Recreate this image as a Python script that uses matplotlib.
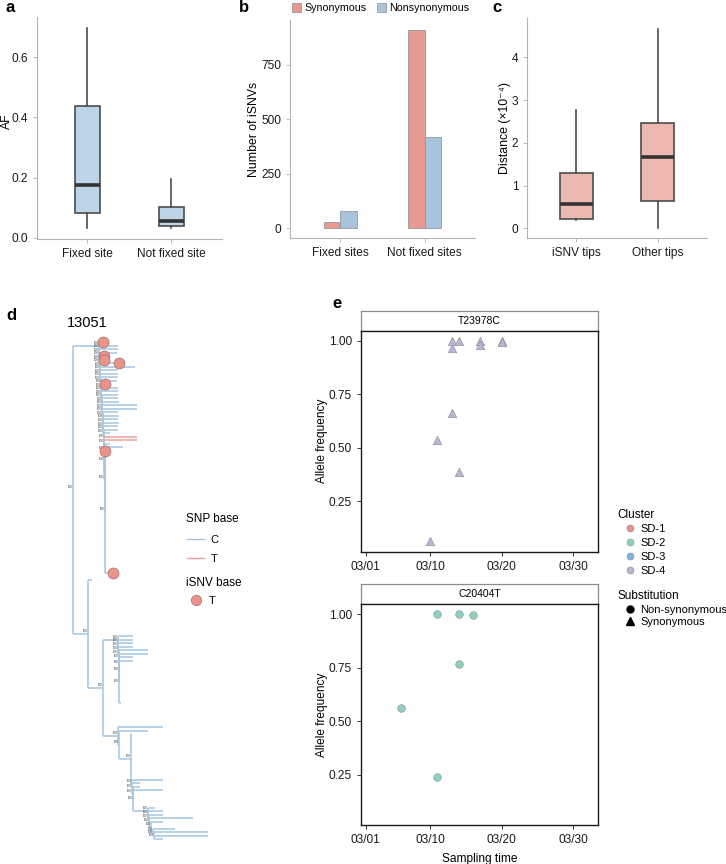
import numpy as np
import matplotlib
matplotlib.use("Agg")
import matplotlib.pyplot as plt
import matplotlib.dates as mdates
from matplotlib.collections import LineCollection
from matplotlib.lines import Line2D
from matplotlib.patches import Patch

plt.rcParams['font.family'] = ['Liberation Sans', 'DejaVu Sans']

# ── panel a: allele frequency box stats ───────────────
a_groups = ["Fixed site", "Not fixed site"]
a_whislo = [0.031, 0.031]
a_q1     = [0.083, 0.039]
a_med    = [0.175, 0.057]
a_q3     = [0.438, 0.101]
a_whishi = [0.696, 0.194]

# ── panel b: iSNV counts ──────────────────────────────
b_groups = ["Fixed sites", "Not fixed sites"]
b_syn    = [27, 908]
b_nonsyn = [78, 420]

# ── panel c: distance box stats (x1e-4) ───────────────
c_groups = ["iSNV tips", "Other tips"]
c_whislo = [0.19, 0.01]
c_q1     = [0.21, 0.64]
c_med    = [0.56, 1.67]
c_q3     = [1.29, 2.46]
c_whishi = [2.77, 4.66]

# ── panel e: allele frequency over time ───────────────
e1_site  = "T23978C"
e1_dates = ["2020-03-10", "2020-03-11", "2020-03-13", "2020-03-13", "2020-03-13",
            "2020-03-14", "2020-03-14", "2020-03-17", "2020-03-17", "2020-03-20", "2020-03-20"]
e1_af    = [0.061, 0.536, 0.66, 0.966, 1.0, 1.0, 0.388, 1.0, 0.98, 1.0, 0.995]
e2_site  = "C20404T"
e2_dates = ["2020-03-06", "2020-03-11", "2020-03-11", "2020-03-14", "2020-03-14", "2020-03-16"]
e2_af    = [0.56, 0.24, 1.0, 1.0, 0.767, 0.995]
clusters = ["SD-1", "SD-2", "SD-3", "SD-4"]
cluster_cols = ["#e8918a", "#8fd0c4", "#7fb2d9", "#b9b5d9"]

# ── panel d: tree 13051 (root-to-node depths) ─────────
# flag: '' plain tip, 'c' iSNV tip, 'r' T-base branch, '|n' = n empty rows before tip
A_depth = [30, 45, 45, 44, 31, 31, 46, 62, 45, 45, 45, 44, 32, 45, 45, 45, 45,
           46, 64, 64, 45, 46, 45, 46, 45, 45, 37, 64, 64, 37, 50, 32, 40]
A_flag  = ['c', '', '', '', 'c', 'c', 'c', '', '', '', '', '', 'c', '', '', '', '',
           '', '', '', '', '', '', '', '', '', '', 'r', 'r', '', '', 'c', 'c|34']
A_spine = [26, 26, 26, 26.2, 26.4, 26.6, 26.8, 27, 27.2, 27.4, 27.6, 27.8, 28, 28.2,
           28.4, 28.6, 28.8, 29, 29.2, 29.4, 29.6, 29.8, 30, 30.2, 30.4, 30.6, 30.8,
           31, 31.2, 31.4, 31.6, 32]
N1_depth, N2_depth = 15, 30
lone_depth, lone_flag = 19, '|1'
B_depth = [60, 60, 60, 60, 75, 75, 60, 60, 47, 48]
B_flag  = ['|15', '', '', '', '', '', '', '', '', '|10']
B_spine = [45, 45, 45.2, 45.4, 45.6, 45.8, 46, 46.2, 46.4]
C0_depth, C0_flag, C0_spine = [90, 75, 57], ['|6', '', ''], [45, 46, 58]
C1_depth, C1_flag, C1_spine = [90, 67, 67, 90], ['|12', '', '', ''], [59, 59, 59.5, 60]
C2_depth, C2_flag, C2_spine = [82, 90, 90, 120, 90], ['|4', '', '', '', ''], [75, 75, 75.5, 76, 78]
C3_depth, C3_flag, C3_spine = [102, 135, 135, 90], ['|1', '', '', ''], [80, 80.5, 81]

BLUE = "#a3c6e3"
RED = "#f0a098"
SYN = "#e69a90"
NONSYN = "#a7c4dc"

W, H = 726, 864
fig = plt.figure(figsize=(W / 100, H / 100), dpi=100)


def px_axes(l, t, r, b):
    return fig.add_axes([l / W, 1 - b / H, (r - l) / W, (b - t) / H])


def style_axes(ax):
    for s in ['top', 'right']:
        ax.spines[s].set_visible(False)
    for s in ['left', 'bottom']:
        ax.spines[s].set_color('#b3b3b3')
        ax.spines[s].set_linewidth(0.8)
    ax.tick_params(colors='#b3b3b3', labelcolor='#1a1a1a', labelsize=8.6, length=3, width=0.6)


def box_stats(lo, q1, med, q3, hi):
    return [dict(whislo=a, q1=b, med=c, q3=d, whishi=e) for a, b, c, d, e in zip(lo, q1, med, q3, hi)]


def draw_box(ax, stats, width, face):
    ax.bxp(stats, positions=[1, 2], widths=width, patch_artist=True, showfliers=False,
           showcaps=False,
           boxprops=dict(facecolor=face, edgecolor='#4d4d4d', linewidth=1.2),
           medianprops=dict(color='#333333', linewidth=2.6),
           whiskerprops=dict(color='#4d4d4d', linewidth=1.2))


# ── a ──
ax = px_axes(36.7, 17.1, 222, 238.8)
draw_box(ax, box_stats(a_whislo, a_q1, a_med, a_q3, a_whishi), 0.3, "#bdd4e7")
style_axes(ax)
ax.set_xlim(0.4, 2.6)
ax.set_ylim(-0.0035, 0.7335)
ax.set_yticks([0, 0.2, 0.4, 0.6])
ax.set_xticks([1, 2], a_groups)
ax.set_ylabel("AF", fontsize=8.8)
ax.yaxis.set_label_coords(-0.13, 0.53)

# ── b ──
ax = px_axes(290, 20, 475, 238.3)
xb = np.arange(1, len(b_groups) + 1)
ax.bar(xb - 0.1, b_syn, width=0.2, color=SYN, edgecolor='#8c8c8c', linewidth=0.5)
ax.bar(xb + 0.1, b_nonsyn, width=0.2, color=NONSYN, edgecolor='#8c8c8c', linewidth=0.5)
style_axes(ax)
ax.set_xlim(0.4, 2.6)
ax.set_ylim(-45.5, 955.5)
ax.set_yticks([0, 250, 500, 750])
ax.set_xticks(xb, b_groups)
ax.set_ylabel("Number of iSNVs", fontsize=8.8)
ax.yaxis.set_label_coords(-0.16, 0.5)
fig.legend(handles=[Patch(fc=SYN, ec='#8c8c8c', lw=0.5), Patch(fc=NONSYN, ec='#8c8c8c', lw=0.5)],
           labels=["Synonymous", "Nonsynonymous"], ncol=2, loc='center left',
           bbox_to_anchor=(292 / W, 1 - 8 / H), frameon=False, fontsize=7.7,
           handlelength=0.85, handleheight=0.85, handletextpad=0.35, columnspacing=0.9,
           borderpad=0, borderaxespad=0)

# ── c ──
ax = px_axes(527.3, 18.3, 706.7, 238.3)
draw_box(ax, box_stats(c_whislo, c_q1, c_med, c_q3, c_whishi), 0.4, "#ecb8b0")
style_axes(ax)
ax.set_xlim(0.4, 2.6)
ax.set_ylim(-0.234, 4.914)
ax.set_yticks([0, 1, 2, 3, 4])
ax.set_xticks([1, 2], c_groups)
ax.set_ylabel("Distance (×10⁻⁴)", fontsize=8.8)
ax.yaxis.set_label_coords(-0.09, 0.5)


# ── d: tree ──
def tips(depths, flags):
    out = []
    for d, f in zip(depths, flags):
        kind, _, gap = f.partition('|')
        out.append({'x': d, 'kind': kind, 'gap': int(gap or 0)})
    return out


def ladder(entries, spine):
    node = {'x': spine[-1], 'kids': entries[-2:]}
    for e, s in zip(entries[-3::-1], spine[-2::-1]):
        node = {'x': s, 'kids': [e, node]}
    return node


def place(node, cursor):
    if 'kids' in node:
        for k in node['kids']:
            place(k, cursor)
        node['y'] = np.mean([k['y'] for k in node['kids']])
    else:
        cursor[0] += 1 + node['gap']
        node['y'] = cursor[0]


def collect(node, blue, red, circles, inner):
    ys = [node['y']]
    inner.append(node)
    for k in node['kids']:
        seg = [(node['x'], k['y']), (k['x'], k['y'])]
        (red if k.get('kind') == 'r' else blue).append(seg)
        ys.append(k['y'])
        if 'kids' in k:
            collect(k, blue, red, circles, inner)
        elif k['kind'] == 'c':
            circles.append((k['x'], k['y']))
    blue.append([(node['x'], min(ys)), (node['x'], max(ys))])


C3 = ladder(tips(C3_depth, C3_flag), C3_spine)
C2 = ladder(tips(C2_depth, C2_flag) + [C3], C2_spine)
C1 = ladder(tips(C1_depth, C1_flag) + [C2], C1_spine)
C0 = ladder(tips(C0_depth, C0_flag) + [C1], C0_spine)
B = ladder(tips(B_depth, B_flag), B_spine)
A = ladder(tips(A_depth, A_flag), A_spine)
N2 = {'x': N2_depth, 'kids': [B, C0]}
N1 = {'x': N1_depth, 'kids': tips([lone_depth], [lone_flag]) + [N2]}
root = {'x': 0, 'kids': [A, N1]}
place(root, [-1])

blue_segs, red_segs, circ, inner = [], [], [], []
collect(root, blue_segs, red_segs, circ, inner)

ROW = 3.5  # px per tip row
axd = px_axes(0, 290, 320, 864)
axd.set_xlim(-73, 247)
axd.set_ylim((864 - 342) / ROW, (290 - 342) / ROW)
axd.axis('off')
axd.add_collection(LineCollection(blue_segs, colors=BLUE, linewidths=1.1))
axd.add_collection(LineCollection(red_segs, colors=RED, linewidths=1.1))
for n in inner:
    axd.text(n['x'] - 0.6, n['y'] - 0.2, "100", fontsize=2.2, color='#444444',
             ha='right', va='bottom')
cx, cy = zip(*circ)
axd.scatter(cx, cy, s=62, color="#e8948a", edgecolor="#a06e68", linewidth=0.5, zorder=5)
fig.text(87.5 / W, 1 - 323 / H, "13051", fontsize=10.5, ha='center', va='center')

fig.text(186 / W, 1 - 519 / H, "SNP base", fontsize=8.5, va='center')
fig.legend(handles=[Line2D([], [], color=BLUE, lw=1), Line2D([], [], color=RED, lw=1)],
           labels=["C", "T"], loc='upper left', bbox_to_anchor=(187 / W, 1 - 535 / H),
           frameon=False, fontsize=8, handlelength=1.5, handletextpad=0.6,
           labelspacing=0.8, borderpad=0, borderaxespad=0)
fig.text(186 / W, 1 - 583 / H, "iSNV base", fontsize=8.5, va='center')
fig.legend(handles=[Line2D([], [], ls='', marker='o', markersize=7.5, mfc="#e8948a",
                           mec="#a06e68", mew=0.5)],
           labels=["T"], loc='upper left', bbox_to_anchor=(188 / W, 1 - 596 / H),
           frameon=False, fontsize=8, handlelength=1.5, handletextpad=0.4,
           borderpad=0, borderaxespad=0)


# ── e ──
def facet(top, site, dates, af, marker, col):
    strip = px_axes(360.7, top, 598.3, top + 20)
    strip.set_xticks([])
    strip.set_yticks([])
    for s in strip.spines.values():
        s.set_color('#8c8c8c')
        s.set_linewidth(0.9)
    strip.text(0.5, 0.5, site, fontsize=7.5, ha='center', va='center', transform=strip.transAxes)
    ax = px_axes(360.7, top + 20, 598.3, top + 241)
    x = mdates.date2num(np.array(dates, dtype='datetime64[D]'))
    ax.scatter(x, af, marker=marker, s=38 if marker == '^' else 30, color=col,
               edgecolor='#8a8a8a', linewidth=0.4, zorder=3)
    d0 = mdates.date2num(np.datetime64('2020-03-01'))
    ax.set_xlim(d0 - 0.7, d0 + 32.5)
    ax.set_ylim(0.013, 1.047)
    ax.set_xticks(mdates.date2num(np.array(['2020-03-01', '2020-03-10', '2020-03-20', '2020-03-30'],
                                           dtype='datetime64[D]')))
    ax.xaxis.set_major_formatter(mdates.DateFormatter('%m/%d'))
    ax.set_yticks([0.25, 0.5, 0.75, 1.0], ["0.25", "0.50", "0.75", "1.00"])
    for s in ax.spines.values():
        s.set_color('#1a1a1a')
        s.set_linewidth(1.0)
    ax.tick_params(labelsize=8.6, length=3, width=0.7, color='#333333', labelcolor='#1a1a1a')
    ax.set_ylabel("Allele frequency", fontsize=8.6)
    ax.yaxis.set_label_coords(-0.138, 0.5)
    return ax


facet(310.7, e1_site, e1_dates, e1_af, '^', cluster_cols[3])
axe = facet(584.3, e2_site, e2_dates, e2_af, 'o', cluster_cols[1])
axe.set_xlabel("Sampling time", fontsize=8.6, labelpad=5)

fig.text(617.7 / W, 1 - 515 / H, "Cluster", fontsize=8.5, va='center')
fig.legend(handles=[Line2D([], [], ls='', marker='o', markersize=5, mfc=c, mec='#8a8a8a', mew=0.4)
                    for c in cluster_cols],
           labels=clusters, loc='upper left', bbox_to_anchor=(624 / W, 1 - 524 / H),
           frameon=False, fontsize=8, handlelength=1.0, handletextpad=0.45,
           labelspacing=0.35, borderpad=0, borderaxespad=0)
fig.text(617.7 / W, 1 - 596 / H, "Substitution", fontsize=8.5, va='center')
fig.legend(handles=[Line2D([], [], ls='', marker='o', markersize=5, color='black'),
                    Line2D([], [], ls='', marker='^', markersize=5.5, color='black')],
           labels=["Non-synonymous", "Synonymous"], loc='upper left',
           bbox_to_anchor=(624 / W, 1 - 605 / H), frameon=False, fontsize=8,
           handlelength=1.0, handletextpad=0.45, labelspacing=0.2,
           borderpad=0, borderaxespad=0)

# ── panel letters ──
for lab, x, y in [("a", 10, 8), ("b", 244, 8), ("c", 497, 8), ("d", 11, 316), ("e", 337, 303)]:
    fig.text(x / W, 1 - y / H, lab, fontsize=12, fontweight='bold', ha='center', va='center')

fig.savefig("out.png", dpi=100)
